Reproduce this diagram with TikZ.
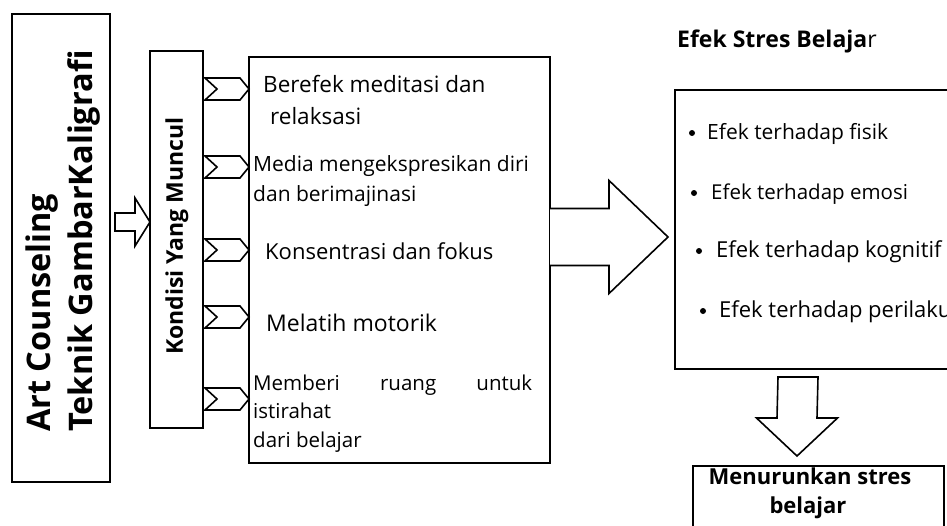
\documentclass[tikz,border=0pt]{standalone}
\usepackage{fontspec}
\setmainfont{Open Sans}
\usetikzlibrary{calc}
\begin{document}
\begin{tikzpicture}[x=1pt,y=-1pt,
  box/.style={draw, line width=1.8pt, inner sep=0pt, outer sep=0pt, anchor=north west},
  shape line/.style={draw, line width=1.6pt, line join=miter, fill=white},
  txt/.style={inner sep=0pt, anchor=base west},
  fs/.style={font=\fontsize{#1}{#1}\selectfont},
  bfs/.style={font=\fontsize{#1}{#1}\selectfont\bfseries}]
\useasboundingbox (0,0) rectangle (947,525);
\clip (0,0) rectangle (947,525);

% boxes
\node[box, minimum width=98pt, minimum height=468pt] (b1) at (12,14) {};
\node[box, minimum width=53pt, minimum height=377pt] (b2) at (150,51) {};
\node[box, minimum width=301pt, minimum height=406pt] (b3) at (249,57) {};
\node[box, minimum width=320pt, minimum height=279pt] (b4) at (675,90) {};
\node[box, minimum width=251pt, minimum height=100pt] (b5) at (693,466) {};

% box 1 text
\node[txt, bfs=32.5, rotate=90] (t1a) at (50,432) {Art Counseling};
\node[txt, bfs=32.5, rotate=90] (t1b) at (92,432) {Teknik GambarKaligrafi};
% box 2 text
\node[inner sep=0pt, bfs=23, rotate=90] (t2) at (177,236) {Kondisi Yang Muncul};

% arrow b1 -> b2
\path (b1.east |- 0,222) coordinate (A1) (b2.west |- 0,222) coordinate (A1t);
\draw[shape line] ($(A1)+(5,-9)$) -- ($(A1t)+(-15,-9)$) -- ($(A1t)+(-15,-24)$) -- (A1t)
  -- ($(A1t)+(-15,24)$) -- ($(A1t)+(-15,9)$) -- ($(A1)+(5,9)$) -- cycle;

% chevrons b2 -> b3
\foreach \cy in {89,167,250,317,399}{
  \path (b2.east |- 0,\cy) coordinate (CL) (b3.west |- 0,\cy) coordinate (CT);
  \draw[shape line] ($(CL)+(2,-11)$) -- ($(CT)+(-9,-11)$) -- (CT) -- ($(CT)+(-9,11)$)
    -- ($(CL)+(2,11)$) -- ($(CL)+(14,0)$) -- cycle;
}

% box 3 texts
\node[txt, fs=22.5] (m1) at (263,92.5) {Berefek meditasi dan};
\node[txt, fs=22.5] (m1b) at (270,124) {relaksasi};
\node[txt, fs=21] (m2) at (253,171.5) {Media mengekspresikan diri};
\node[txt, fs=21] (m2b) at (253,201.5) {dan berimajinasi};
\node[txt, fs=22] (m3) at (265,259) {Konsentrasi dan fokus};
\node[txt, fs=23] (m4) at (266,331) {Melatih motorik};
\node[txt, fs=20.5] (m5) at (253,390) {\makebox[279pt][s]{Memberi ruang untuk}};
\node[txt, fs=20.5] (m5b) at (253,418) {istirahat};
\node[txt, fs=20.5] (m5c) at (253,447) {dari belajar};

% big arrow b3 -> b4
\path (b3.east |- 0,237) coordinate (A2) (b4.west |- 0,237) coordinate (A2w);
\coordinate (A2t) at ($(A2w)+(-7,0)$);
\draw[shape line] ($(A2)+(0,-28.5)$) -- ($(A2t)+(-59,-28.5)$) -- ($(A2t)+(-59,-56.5)$) -- (A2t)
  -- ($(A2t)+(-59,56.5)$) -- ($(A2t)+(-59,28.5)$) -- ($(A2)+(0,28.5)$);

% title
\node[txt, bfs=23] (title) at (677,47) {Efek Stres Belaja\mdseries r};

% box 4 items
\node[txt, fs=21] (e1) at (707,139) {Efek terhadap fisik};
\node[txt, fs=20.5] (e2) at (711,199) {Efek terhadap emosi};
\node[txt, fs=22] (e3) at (716,257) {Efek terhadap kognitif};
\node[txt, fs=22] (e4) at (719,317) {Efek terhadap perilaku};
\fill (692,133) circle (3);
\fill (694,193) circle (3);
\fill (699,251) circle (3);
\fill (703,311) circle (3);

% down arrow b4 -> b5
\path (b4.south -| 798,0) coordinate (A3b) (b5.north -| 797,0) coordinate (A3tb);
\coordinate (A3) at ($(A3b)+(0,8)$);
\coordinate (A3t) at ($(A3tb)+(0,-10)$);
\draw[shape line] ($(A3)+(-20,0)$) -- ($(A3)+(20,0)$) -- ($(A3t)+(20,-38)$) -- ($(A3t)+(40.5,-38)$)
  -- (A3t) -- ($(A3t)+(-40.5,-38)$) -- ($(A3t)+(-20,-38)$) -- cycle;

% box 5 text
\node[inner sep=0pt, anchor=base, bfs=22] (r1) at (810,484) {Menurunkan stres};
\node[inner sep=0pt, anchor=base, bfs=22] (r2) at (808,513) {belajar};
\end{tikzpicture}
\end{document}
